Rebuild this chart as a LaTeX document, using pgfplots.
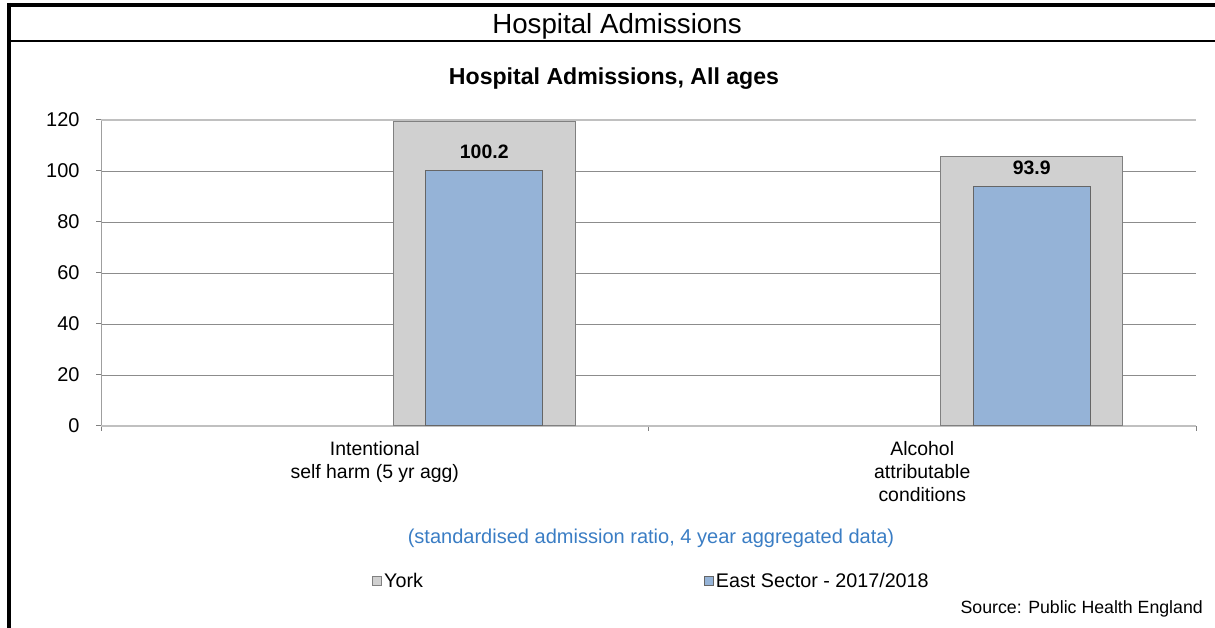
\documentclass[border=0pt]{standalone}
\usepackage{fontspec}
\setmainfont{Liberation Sans}
\usepackage{pgfplots}
\pgfplotsset{compat=1.18}
\definecolor{barblue}{RGB}{149,179,215}
\definecolor{bargray}{RGB}{208,208,208}
\definecolor{subblue}{RGB}{58,125,196}
\definecolor{gridgray}{RGB}{140,140,140}
\definecolor{lightline}{RGB}{192,192,192}
\begin{document}
\begin{tikzpicture}[x=1bp,y=1bp]
\path[use as bounding box] (0,0) rectangle (1215,628);
% frame
\draw[line width=4bp] (7,623) -- (1215,623);
\draw[line width=4bp] (9,625) -- (9,0);
\draw[line width=2bp] (9,587) -- (1215,587);
% header and title
\node[anchor=base,inner sep=0pt] at (617,594) {\fontsize{27.8}{30}\selectfont Hospital Admissions};
\node[anchor=base,inner sep=0pt] at (614,543.5) {\bfseries\fontsize{23.2}{26}\selectfont Hospital Admissions, All ages};
\begin{axis}[
  at={(101bp,202bp)}, anchor=south west,
  width=1095bp, height=306bp, scale only axis,
  xmin=-0.5, xmax=1.5, ymin=0, ymax=120,
  axis x line*=bottom, axis y line*=left,
  x axis line style={draw=lightline, line width=2bp, -},
  y axis line style={draw=gray!75, line width=1bp, -},
  tick align=outside, major tick length=5bp,
  tick style={draw=gray, line width=1bp},
  xtick={-0.5,0.5,1.5}, xticklabels={},
  extra x ticks={0,1},
  extra x tick labels={{Intentional\\self harm (5 yr agg)},{Alcohol\\attributable\\conditions}},
  extra x tick style={major tick length=0pt, xticklabel style={align=center, font=\fontsize{19.5}{23}\selectfont, inner sep=0pt, anchor=north, yshift=-15bp}},
  ytick={20,40,...,100},
  extra y ticks={0,120},
  extra y tick style={grid style={draw=lightline, line width=2bp}},
  ymajorgrids,
  grid style={draw=gridgray, line width=0.8bp},
  yticklabel style={font=\fontsize{20}{23}\selectfont, xshift=-13bp},
  /pgf/number format/assume math mode=true,
  legend columns=2,
  legend cell align=left,
  legend style={draw=none, fill=none, at={(0.2475,-0.5065)}, anchor=west,
    font=\fontsize{19.8}{23}\selectfont, inner sep=0pt,
    /tikz/every even column/.append style={column sep=279bp}},
  legend image code/.code={\draw[#1] (0bp,-4.5bp) rectangle (9bp,4.5bp);},
]
\addplot[ybar, bar width=0.333, bar shift=0pt, fill=bargray, draw=gray, line width=1bp]
  coordinates {(0.2,119.5) (1.2,105.6)};
\addlegendentry{York}
\addplot[ybar, bar width=0.213, bar shift=0pt, fill=barblue, draw=black!60, line width=1bp,
  nodes near coords={\pgfmathprintnumber[fixed,fixed zerofill,precision=1,assume math mode=true]{\pgfplotspointmeta}},
  every node near coord/.append style={font=\bfseries\fontsize{19.5}{23}\selectfont, inner sep=0pt, anchor=south, yshift=11bp, text=black}]
  coordinates {(0.2,100.2) (1.2,93.9)};
\addlegendentry{East Sector - 2017/2018}
\end{axis}
\node[anchor=base,inner sep=0pt,text=subblue] at (651,84) {\fontsize{20.1}{23}\selectfont (standardised admission ratio, 4 year aggregated data)};
\node[anchor=base east,inner sep=0pt] at (1203,14) {\fontsize{17.8}{21}\selectfont Source: Public Health England};
\end{tikzpicture}
\end{document}
